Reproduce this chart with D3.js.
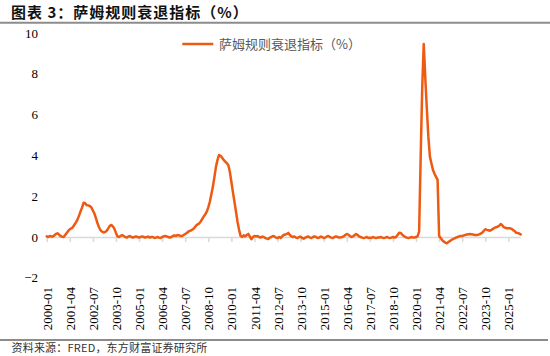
<!DOCTYPE html>
<html><head><meta charset="utf-8">
<script src="https://cdn.jsdelivr.net/npm/d3@7/dist/d3.min.js"></script>
<style>
html,body{margin:0;padding:0;background:#fff;}
svg{display:block;}
</style></head>
<body>
<svg id="chart" width="550" height="356"></svg>
<script>
// ---- data (monthly, starting 2000-01) ----
const startYear = 2000;
const sahmValues = [
  // 2000
  0.03, 0.00, 0.05, 0.02, 0.03, 0.08, 0.15, 0.18, 0.12, 0.05, 0.02, 0.00,
  // 2001
  0.10, 0.20, 0.30, 0.38, 0.42, 0.48, 0.60, 0.72, 0.85, 1.05, 1.25, 1.45,
  // 2002
  1.68, 1.66, 1.56, 1.55, 1.52, 1.45, 1.30, 1.15, 0.92, 0.67, 0.48, 0.33,
  // 2003
  0.26, 0.22, 0.25, 0.31, 0.42, 0.55, 0.59, 0.52, 0.40, 0.20, 0.03, 0.00,
  // 2004
  0.05, 0.10, 0.05, 0.00, -0.03, 0.02, 0.05, 0.00, -0.03, 0.00, 0.03, 0.00,
  // 2005
  -0.03, 0.00, 0.03, 0.00, -0.03, 0.00, 0.02, -0.03, 0.00, 0.00, -0.05, -0.03,
  // 2006
  0.00, -0.03, -0.05, 0.00, 0.03, 0.05, 0.03, 0.00, -0.03, 0.00, 0.05, 0.08,
  // 2007
  0.05, 0.10, 0.08, 0.05, 0.05, 0.10, 0.15, 0.20, 0.26, 0.30, 0.33, 0.38,
  // 2008
  0.45, 0.55, 0.62, 0.66, 0.75, 0.88, 1.00, 1.10, 1.24, 1.45, 1.73, 2.10,
  // 2009
  2.47, 2.95, 3.45, 3.78, 4.02, 3.98, 3.88, 3.78, 3.70, 3.62, 3.53, 3.20,
  // 2010
  2.71, 2.20, 1.73, 1.25, 0.75, 0.35, 0.05, 0.00, 0.08, 0.03, 0.10, 0.15,
  // 2011
  0.02, -0.11, 0.00, 0.05, 0.03, 0.05, 0.00, -0.03, 0.02, 0.00, -0.05, -0.08,
  // 2012
  -0.10, -0.03, 0.00, 0.05, 0.03, -0.03, -0.05, 0.00, -0.05, 0.03, 0.10, 0.12,
  // 2013
  0.15, 0.20, 0.10, 0.03, 0.00, 0.03, -0.03, -0.05, 0.00, 0.02, -0.05, -0.08,
  // 2014
  -0.03, 0.00, 0.03, -0.03, -0.05, 0.00, 0.03, 0.00, -0.05, -0.03, 0.02, 0.00,
  // 2015
  -0.05, -0.03, 0.03, 0.05, 0.00, -0.03, -0.05, 0.00, 0.03, 0.00, -0.03, -0.02,
  // 2016
  0.00, 0.03, 0.10, 0.15, 0.12, 0.05, 0.00, 0.03, 0.08, 0.15, 0.10, 0.03,
  // 2017
  0.00, -0.03, -0.05, -0.03, 0.00, -0.05, -0.03, -0.05, 0.00, -0.03, -0.05, -0.03,
  // 2018
  -0.03, 0.00, -0.03, -0.05, -0.03, 0.00, -0.03, -0.05, -0.03, 0.00, -0.03, 0.00,
  // 2019
  0.10, 0.21, 0.20, 0.12, 0.05, 0.00, -0.03, -0.05, -0.03, 0.00, -0.03, -0.03,
  // 2020
  0.00, 0.03, 0.27, 3.90, 7.30, 9.46, 7.80, 6.30, 4.92, 3.94, 3.60, 3.28,
  // 2021
  3.10, 2.95, 2.80, 0.05, -0.05, -0.15, -0.22, -0.28, -0.31, -0.25, -0.20, -0.15,
  // 2022
  -0.10, -0.07, -0.03, 0.00, 0.03, 0.05, 0.05, 0.08, 0.10, 0.12, 0.13, 0.15,
  // 2023
  0.13, 0.12, 0.10, 0.10, 0.10, 0.13, 0.17, 0.21, 0.30, 0.38, 0.35, 0.33,
  // 2024
  0.31, 0.35, 0.40, 0.45, 0.48, 0.50, 0.55, 0.64, 0.58, 0.48, 0.45, 0.43,
  // 2025
  0.43, 0.43, 0.40, 0.34, 0.30, 0.21, 0.20, 0.17, 0.13
];
const months = sahmValues.map((v, i) => {
  const y = startYear + Math.floor(i / 12);
  const m = (i % 12) + 1;
  return y + "-" + (m < 10 ? "0" + m : m);
});
const xTickLabels = ["2000-01","2001-04","2002-07","2003-10","2005-01","2006-04","2007-07","2008-10",
  "2010-01","2011-04","2012-07","2013-10","2015-01","2016-04","2017-07","2018-10","2020-01","2021-04",
  "2022-07","2023-10","2025-01"];
const yTicks = [-2, 0, 2, 4, 6, 8, 10];
const seriesName = "萨姆规则衰退指标（%）";
const titleText = "图表 3：萨姆规则衰退指标（%）";
const sourceText = "资料来源：FRED，东方财富证券研究所";

// ---- drawing ----
const svg = d3.select("#chart");
const color = "#EE5A12";
const serif = "'Liberation Serif','Times New Roman',serif";
const cjk = "'Noto Sans CJK SC','Noto Sans',sans-serif";

const x = d3.scalePoint().domain(months).range([46.7, 520.7]);
const y = d3.scaleLinear().domain([-2, 10]).range([277.8, 33]);

// title
svg.append("text").attr("x", 11).attr("y", 17.5)
  .attr("font-family", cjk).attr("font-size", 15).attr("font-weight", "bold")
  .attr("letter-spacing", 1).attr("xml:space", "preserve").style("white-space", "pre")
  .attr("fill", "#111").text(titleText);
svg.append("line").attr("x1", 0).attr("x2", 550).attr("y1", 22.7).attr("y2", 22.7)
  .attr("stroke", "#8c8c8c").attr("stroke-width", 2);

// y axis (labels only)
const yAxis = svg.append("g").attr("transform", "translate(41,0)")
  .call(d3.axisLeft(y).tickValues(yTicks).tickSize(0).tickPadding(3).tickFormat(d3.format("d")));
yAxis.select(".domain").remove();
yAxis.selectAll("text").attr("font-family", serif).attr("font-size", 13).attr("fill", "#000");

// x axis at zero
const xAxis = svg.append("g").attr("transform", `translate(0,${y(0)})`)
  .call(d3.axisBottom(x).tickValues(xTickLabels).tickSize(5).tickFormat(""));
xAxis.select(".domain").attr("stroke", "#d9d9d9").attr("stroke-width", 1.5)
  .attr("d", `M${x(months[0])},0.5H${x(months[months.length-1])}`);
xAxis.selectAll(".tick line").attr("stroke", "#d9d9d9").attr("stroke-width", 1.5);

// x labels at bottom, rotated
const xLab = svg.append("g").attr("transform", "translate(0,287)")
  .call(d3.axisBottom(x).tickValues(xTickLabels).tickSize(0));
xLab.select(".domain").remove();
xLab.selectAll("text")
  .attr("font-family", serif).attr("font-size", 13).attr("fill", "#000")
  .attr("text-anchor", "end").attr("x", 0).attr("y", 0).attr("dy", "0.35em")
  .attr("transform", "rotate(-90)");

// line
const line = d3.line().x((d, i) => x(months[i])).y(d => y(d));
svg.append("path").datum(sahmValues).attr("d", line)
  .attr("fill", "none").attr("stroke", color).attr("stroke-width", 2.5)
  .attr("stroke-linejoin", "round").attr("stroke-linecap", "round");

// legend
svg.append("line").attr("x1", 182.3).attr("x2", 213.3).attr("y1", 44).attr("y2", 44)
  .attr("stroke", color).attr("stroke-width", 2.5);
svg.append("text").attr("x", 219).attr("y", 44).attr("dy", "0.35em")
  .attr("font-family", cjk).attr("font-size", 13).attr("fill", "#595959").text(seriesName);

// bottom rule + source
svg.append("line").attr("x1", 0).attr("x2", 548).attr("y1", 340).attr("y2", 340)
  .attr("stroke", "#8c8c8c").attr("stroke-width", 2);
svg.append("text").attr("x", 11.5).attr("y", 348).attr("dy", "0.35em")
  .attr("font-family", cjk).attr("font-size", 11).attr("letter-spacing", 0.2)
  .attr("fill", "#333").text(sourceText);
</script>
</body></html>
